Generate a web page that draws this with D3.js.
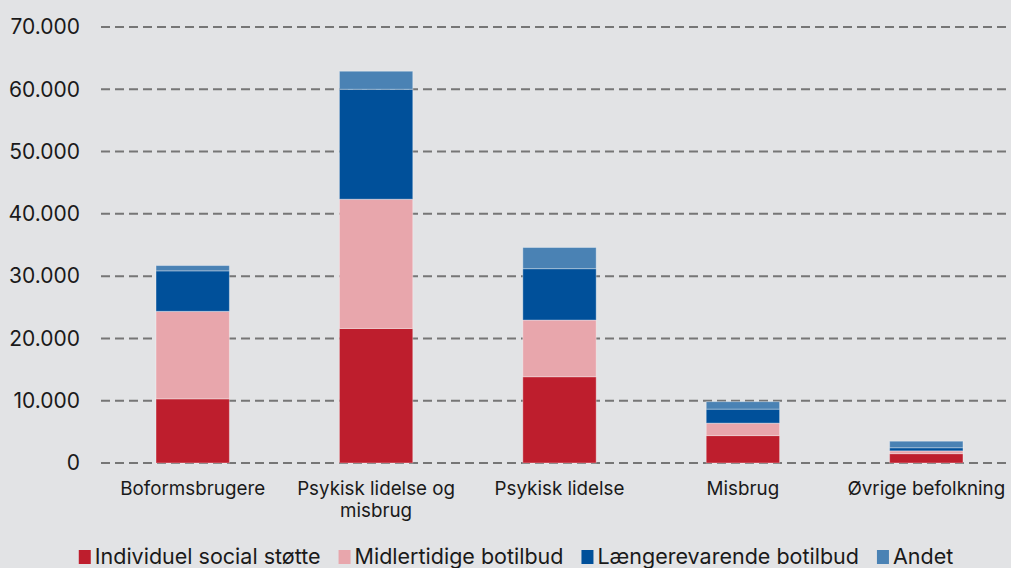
<!DOCTYPE html>
<html>
<head>
<meta charset="utf-8">
<script src="https://cdn.jsdelivr.net/npm/d3@7"></script>
<style>
  html, body { margin: 0; padding: 0; background: #e2e3e5; }
  svg { display: block; font-family: Inter, "Noto Sans", sans-serif; }
</style>
</head>
<body>
<svg id="chart" width="1011" height="568"></svg>
<script>
// data
var categories = ["Boformsbrugere", "Psykisk lidelse og misbrug", "Psykisk lidelse", "Misbrug", "Øvrige befolkning"];
var seriesNames = ["Individuel social støtte", "Midlertidige botilbud", "Længerevarende botilbud", "Andet"];
var individuel = [10300, 21600, 13850, 4400, 1500];
var midlertidige = [14050, 20750, 9100, 2000, 450];
var laengere = [6500, 17650, 8250, 2250, 500];
var andet = [850, 2900, 3400, 1200, 1050];
var yTicks = [0, 10000, 20000, 30000, 40000, 50000, 60000, 70000];
var colors = ["#be1e2d", "#e8a6ac", "#00509a", "#4a82b4"];

var svg = d3.select("#chart");
var x0 = 101, x1 = 1018, yTop = 27, yBottom = 463;

var rows = categories.map(function(c, i){
  return {cat: c, s0: individuel[i], s1: midlertidige[i], s2: laengere[i], s3: andet[i]};
});
var stack = d3.stack().keys(["s0", "s1", "s2", "s3"])(rows);

var x = d3.scaleBand().domain(categories).range([x0, x1]).paddingInner(0.6).paddingOuter(0.3);
var y = d3.scaleLinear().domain([0, 70000]).range([yBottom, yTop]);

var fmt = function(v){ return d3.format(",")(v).replace(/,/g, "."); };

// grid lines
svg.append("g").selectAll("line").data(yTicks).enter().append("line")
  .attr("x1", x0).attr("x2", 1011)
  .attr("y1", function(d){ return y(d); }).attr("y2", function(d){ return y(d); })
  .attr("stroke", "#767676").attr("stroke-width", 2).attr("stroke-dasharray", "9,5");

// y labels
svg.append("g").selectAll("text").data(yTicks).enter().append("text")
  .attr("x", 80).attr("y", function(d){ return y(d); }).attr("dy", "0.35em")
  .attr("text-anchor", "end").attr("font-size", 21).attr("fill", "#1a1a1a")
  .text(fmt);

// bars
svg.append("g").selectAll("g").data(stack).enter().append("g")
  .attr("fill", function(d, i){ return colors[i]; })
  .selectAll("rect").data(function(d){ return d; }).enter().append("rect")
  .attr("x", function(d){ return x(d.data.cat); })
  .attr("width", x.bandwidth())
  .attr("y", function(d){ return y(d[1]); })
  .attr("height", function(d){ return y(d[0]) - y(d[1]); })
  .attr("stroke", "rgba(255,255,255,0.35)").attr("stroke-width", 1);

// x labels
var xl = svg.append("g").selectAll("text").data(categories).enter().append("text")
  .attr("x", function(d){ return x(d) + x.bandwidth() / 2; })
  .attr("y", 495).attr("text-anchor", "middle").attr("font-size", 18.8).attr("fill", "#1a1a1a");
xl.each(function(d){
  var lines = d == "Psykisk lidelse og misbrug" ? ["Psykisk lidelse og", "misbrug"] : [d];
  var t = d3.select(this);
  lines.forEach(function(l, i){
    t.append("tspan").attr("x", x(d) + x.bandwidth() / 2).attr("dy", i == 0 ? 0 : 22).text(l);
  });
});

// legend
var lg = svg.append("g");
var lx = 0;
seriesNames.forEach(function(n, i){
  var g = lg.append("g").attr("transform", "translate(" + lx + ",0)");
  g.append("rect").attr("x", 0).attr("y", -14).attr("width", 12).attr("height", 14).attr("fill", colors[i]);
  var t = g.append("text").attr("x", 16).attr("y", 0).attr("font-size", 21.5).attr("fill", "#1a1a1a").text(n);
  lx += 16 + t.node().getComputedTextLength() + 18;
});
lx -= 18;
lg.attr("transform", "translate(" + (516 - lx / 2) + ",564)");
</script>
</body>
</html>
